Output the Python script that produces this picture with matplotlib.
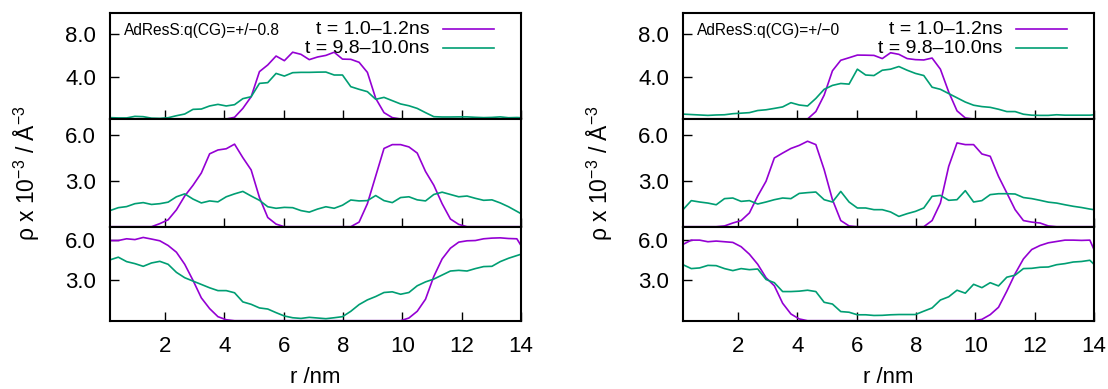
import matplotlib
matplotlib.use("Agg")
import matplotlib.pyplot as plt
from matplotlib.ticker import FormatStrFormatter

plt.rcParams['font.family'] = ['Liberation Sans', 'DejaVu Sans']
plt.rcParams['mathtext.fontset'] = 'custom'
plt.rcParams['mathtext.rm'] = 'Liberation Sans'
plt.rcParams['mathtext.it'] = 'Liberation Sans:italic'
plt.rcParams['mathtext.bf'] = 'Liberation Sans:bold'

# radial bin positions (nm)
r_nm = [0.14, 0.42, 0.70, 0.98, 1.26, 1.54, 1.82, 2.10, 2.38, 2.66,
        2.94, 3.22, 3.50, 3.78, 4.06, 4.34, 4.62, 4.90, 5.18, 5.46,
        5.74, 6.02, 6.30, 6.58, 6.86, 7.14, 7.42, 7.70, 7.98, 8.26,
        8.54, 8.82, 9.10, 9.38, 9.66, 9.94, 10.22, 10.50, 10.78, 11.06,
        11.34, 11.62, 11.90, 12.18, 12.46, 12.74, 13.02, 13.30, 13.58, 13.86,
        14.00]

# ---- left column: AdResS q(CG)=+/-0.8 ----
L_top_early = [0, 0, 0, 0, 0, 0, 0, 0, 0, 0, 0, 0, 0, 0, 0,
               0.16, 1.0, 2.1, 4.47, 5.1, 5.94, 5.5, 6.3, 6.1, 5.6,
               5.85, 6.0, 6.3, 5.65, 5.63, 5.35, 4.4, 1.95, 0.6, 0.13,
               0, 0, 0, 0, 0, 0, 0, 0, 0, 0, 0, 0, 0, 0, 0, 0]
L_top_late = [0.13, 0.1, 0.1, 0.25, 0.22, 0.08, 0.06, 0.12, 0.31, 0.47,
              0.91, 0.94, 1.23, 1.38, 1.23, 1.35, 1.92, 2.1, 3.36, 3.43,
              4.3, 4.05, 4.37, 4.4, 4.4, 4.42, 4.43, 4.15, 4.15, 3.05,
              2.8, 2.58, 1.86, 2.04, 1.73, 1.42, 1.25, 1.0, 0.6, 0.22,
              0.19, 0.19, 0.2, 0.2, 0.16, 0.13, 0.15, 0.2, 0.12, 0.14, 0.12]
L_mid_early = [0, 0, 0, 0, 0, 0,
               0.2, 0.45, 1.1, 2.0, 2.7, 3.5, 4.75, 5.0, 5.08, 5.38, 4.5, 3.7, 1.9, 0.6, 0.17,
               0, 0, 0, 0, 0, 0, 0, 0,
               0, 0.3, 1.5, 3.3, 5.1, 5.35, 5.35, 5.2, 4.8, 3.6, 2.7, 1.5, 0.5, 0.15,
               0, 0, 0, 0, 0, 0, 0, 0]
L_mid_late = [1.05, 1.24, 1.31, 1.5, 1.57, 1.45, 1.5, 1.6, 1.95, 2.14,
              1.8, 1.55, 1.68, 1.62, 1.95, 2.14, 2.3, 2.0, 1.72, 1.3,
              1.2, 1.26, 1.24, 1.05, 0.95, 1.15, 1.3, 1.2, 1.4, 1.74,
              1.68, 1.7, 2.03, 1.7, 1.57, 1.9, 1.95, 1.75, 1.68, 2.1,
              2.25, 2.1, 1.95, 2.0, 1.85, 1.72, 1.75, 1.55, 1.3, 1.0, 0.85]
L_bot_early = [5.97, 5.97, 6.1, 6.04, 6.2, 6.08, 5.95, 5.6, 5.1, 4.2,
               3.0, 1.7, 0.9, 0.3, 0.07,
               0, 0, 0, 0, 0, 0, 0, 0, 0, 0, 0, 0, 0, 0, 0, 0, 0, 0, 0, 0, 0,
               0.2, 0.7, 1.6, 3.3, 4.6, 5.4, 5.85, 5.95, 5.97, 6.1, 6.15, 6.17, 6.12, 6.1,
               5.6]
L_bot_late = [4.53, 4.73, 4.4, 4.25, 4.05, 4.3, 4.42, 4.2, 3.6, 3.2,
              2.95, 2.7, 2.45, 2.24, 2.24, 2.08, 1.4, 1.22, 0.95, 0.87,
              0.6, 0.35, 0.22, 0.17, 0.25, 0.2, 0.15, 0.22, 0.3, 0.7,
              1.2, 1.55, 1.8, 2.1, 2.15, 1.97, 2.1, 2.6, 2.89, 3.1,
              3.4, 3.7, 3.75, 3.7, 3.88, 4.03, 4.05, 4.4, 4.65, 4.85, 4.95]

# ---- right column: AdResS q(CG)=+/-0 ----
R_top_early = [0, 0, 0, 0, 0, 0, 0, 0, 0, 0, 0, 0, 0, 0, 0,
               0, 0.7, 2.25, 4.55, 5.54, 5.78, 6.03, 6.02, 6.0, 5.7,
               6.25, 6.1, 5.7, 5.6, 5.57, 5.75, 4.7, 2.55, 0.77, 0.1,
               0, 0, 0, 0, 0, 0, 0, 0, 0, 0, 0, 0, 0, 0, 0, 0]
R_top_late = [0.46, 0.42, 0.38, 0.34, 0.38, 0.4, 0.5, 0.55, 0.6, 0.8,
              0.87, 1.0, 1.14, 1.54, 1.32, 1.23, 1.94, 2.8, 3.17, 3.35,
              3.29, 4.7, 4.15, 4.1, 4.6, 4.7, 4.95, 4.6, 4.3, 4.1,
              3.0, 2.8, 2.4, 2.0, 1.6, 1.3, 1.17, 1.1, 0.92, 0.7,
              0.7, 0.45, 0.36, 0.34, 0.34, 0.4, 0.36, 0.36, 0.36, 0.36, 0.4]
R_mid_early = [0, 0, 0, 0,
               0, 0.05, 0.24, 0.4, 0.9, 2.0, 2.96, 4.48, 4.8, 5.1, 5.3, 5.57, 5.35, 3.72, 1.76, 0.4, 0.05,
               0, 0, 0, 0, 0, 0, 0, 0,
               0, 0.4, 1.54, 3.93, 5.46, 5.35, 5.35, 4.74, 4.59, 3.28, 2.2, 1.11, 0.4, 0.3, 0.24, 0.05,
               0, 0, 0, 0, 0, 0]
R_mid_late = [1.11, 1.7, 1.61, 1.54, 1.43, 1.83, 1.87, 1.65, 1.7, 1.48,
              1.61, 1.76, 1.87, 1.83, 2.17, 2.22, 2.26, 1.76, 1.61, 2.3,
              1.61, 1.22, 1.22, 1.11, 1.11, 0.96, 0.67, 0.85, 1.0, 1.22,
              1.98, 2.04, 1.72, 1.76, 2.35, 1.61, 1.7, 2.09, 2.15, 2.15,
              2.13, 1.9, 1.83, 1.72, 1.6, 1.54, 1.43, 1.33, 1.25, 1.15, 1.11]
R_bot_early = [5.68, 6.0, 6.0, 5.88, 5.93, 5.88, 5.83, 5.51, 4.95, 4.2,
               3.2, 2.6, 1.3, 0.5, 0.13,
               0, 0, 0, 0, 0, 0, 0, 0, 0, 0, 0, 0, 0, 0, 0, 0, 0, 0, 0, 0, 0,
               0.1, 0.45, 1.0, 2.2, 3.5, 4.6, 5.3, 5.6, 5.8, 5.9, 6.0, 6.0, 5.98, 6.0,
               5.3]
R_bot_late = [4.17, 3.88, 3.93, 4.12, 4.1, 3.88, 3.73, 3.88, 3.8, 3.85,
              3.07, 2.83, 2.17, 2.17, 2.2, 2.27, 2.17, 1.37, 1.24, 0.68,
              0.63, 0.44, 0.44, 0.39, 0.4, 0.44, 0.46, 0.46, 0.46, 0.71,
              0.95, 1.54, 1.78, 2.27, 2.05, 2.71, 2.46, 2.83, 2.59, 3.24,
              3.39, 3.88, 3.9, 3.98, 4.0, 4.17, 4.25, 4.37, 4.41, 4.5, 4.2]

series_labels = ['t = 1.0\u20131.2ns', 't = 9.8\u201310.0ns']
column_notes = ['AdResS:q(CG)=+/\u22120.8', 'AdResS:q(CG)=+/\u22120']
x_ticks = [2, 4, 6, 8, 10, 12, 14]
row_yticks = [[4.0, 8.0], [3.0, 6.0], [3.0, 6.0]]
row_ylims = [(0, 10), (0, 7), (0, 7)]

PURPLE = '#9400D3'
GREEN = '#009E73'

data = [
    [(L_top_early, L_top_late), (L_mid_early, L_mid_late), (L_bot_early, L_bot_late)],
    [(R_top_early, R_top_late), (R_mid_early, R_mid_late), (R_bot_early, R_bot_late)],
]

W, H = 1108, 389
fig = plt.figure(figsize=(W / 100, H / 100), dpi=100)

col_left = [110, 683]
col_width = 411
row_pix = [(13, 119), (119.3, 226.7), (226.7, 320.7)]

for c in range(2):
    for rr in range(3):
        top, bot = row_pix[rr]
        ax = fig.add_axes([col_left[c] / W, 1 - bot / H, col_width / W, (bot - top) / H])
        early, late = data[c][rr]
        ax.plot(r_nm, early, color=PURPLE, lw=1.2, zorder=2)
        ax.plot(r_nm, late, color=GREEN, lw=1.2, zorder=2)
        ax.set_xlim(0.14, 14)
        ax.set_ylim(*row_ylims[rr])
        ax.set_xticks(x_ticks)
        ax.set_yticks(row_yticks[rr])
        ax.yaxis.set_major_formatter(FormatStrFormatter('%.1f'))
        ax.tick_params(direction='in', length=6.5, width=1.0, labelsize=16,
                       top=False, right=False, colors='black')
        ax.tick_params(axis='y', pad=10)
        ax.tick_params(axis='x', pad=11)
        if rr < 2:
            ax.tick_params(labelbottom=False)
        for s in ax.spines.values():
            s.set_linewidth(1.5)
            s.set_zorder(3)
        if rr == 0:
            ax.text(0.034, 0.836, column_notes[c], transform=ax.transAxes,
                    ha='left', va='center', fontsize=11.2)
            for k, (lab, col) in enumerate(zip(series_labels, [PURPLE, GREEN])):
                yy = 0.849 - 0.18 * k
                ax.text(0.778, yy, lab, transform=ax.transAxes, ha='right',
                        va='center', fontsize=14, zorder=4)
                ax.plot([0.81, 0.935], [yy, yy], transform=ax.transAxes,
                        color=col, lw=1.2, clip_on=False)
    cx = (col_left[c] + col_width / 2) / W
    fig.text(cx, 1 - 388 / H, 'r /nm', ha='center', va='bottom', fontsize=16)
    fig.text((col_left[c] - 83) / W, 1 - 173 / H,
             r'ρ x 10$^{-3}$ / Å$^{-3}$', rotation=90,
             ha='center', va='center', fontsize=16.5)

fig.savefig('out.png', dpi=100)
